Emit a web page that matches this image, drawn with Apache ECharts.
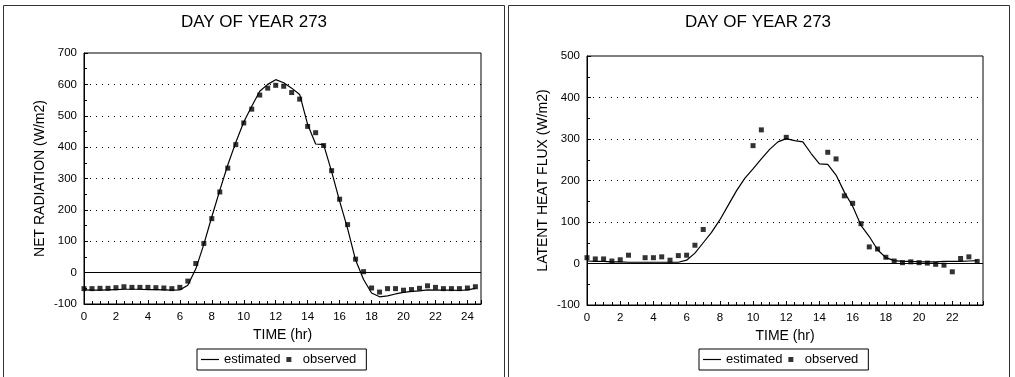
<!DOCTYPE html>
<html>
<head>
<meta charset="utf-8">
<script src="https://cdn.jsdelivr.net/npm/echarts@6/dist/echarts.min.js"></script>
<style>
  html, body { margin: 0; padding: 0; background: #fff; }
  #chart { width: 1015px; height: 377px; }
</style>
</head>
<body>
<div id="chart"></div>
<script>
// half-hour time steps
var netHours = [0, 0.5, 1, 1.5, 2, 2.5, 3, 3.5, 4, 4.5, 5, 5.5, 6, 6.5, 7, 7.5, 8, 8.5, 9, 9.5,
    10, 10.5, 11, 11.5, 12, 12.5, 13, 13.5, 14, 14.5, 15, 15.5, 16, 16.5, 17, 17.5, 18, 18.5, 19, 19.5,
    20, 20.5, 21, 21.5, 22, 22.5, 23, 23.5, 24, 24.5];
var netObserved = [-51, -51, -50, -50, -48, -45, -47, -47, -47, -48, -49, -51, -47, -27, 29, 93, 172, 257, 333, 408,
    477, 521, 566, 588, 597, 594, 574, 553, 466, 446, 405, 325, 234, 153, 43, 3, -49, -62, -51, -51,
    -56, -54, -50, -42, -47, -51, -51, -51, -49, -45];
var netEstimated = [-55, -56, -56, -55, -54, -53, -53, -53, -54, -54, -55, -56, -55, -40, 12, 90, 178, 262, 343, 415,
    480, 530, 578, 600, 615, 605, 588, 568, 472, 410, 408, 322, 228, 140, 40, -22, -65, -77, -74, -68,
    -63, -60, -58, -55, -56, -56, -56, -57, -55, -50];

var latentHours = [0, 0.5, 1, 1.5, 2, 2.5, 3, 3.5, 4, 4.5, 5, 5.5, 6, 6.5, 7, 7.5, 8, 8.5, 9, 9.5,
    10, 10.5, 11, 11.5, 12, 12.5, 13, 13.5, 14, 14.5, 15, 15.5, 16, 16.5, 17, 17.5, 18, 18.5, 19, 19.5,
    20, 20.5, 21, 21.5, 22, 22.5, 23, 23.5];
var latentObserved = [14, 11, 11, 6, 9, 20, null, 14, 14, 16, 8, 19, 20, 44, 82, null, null, null, null, null,
    284, 322, null, null, 304, null, null, null, null, 268, 252, 163, 145, 96, 40, 35, 15, 6, 2, 4,
    2, 1, -2, -4, -20, 12, 16, 5];
var latentEstimated = [6, 5, 5, 4, 4, 3, 3, 3, 3, 3, 3, 3, 8, 25, 50, 75, 105, 140, 175, 205,
    228, 252, 275, 293, 301, 296, 293, 265, 240, 239, 213, 172, 138, 92, 65, 33, 14, 7, 5, 5,
    4, 4, 4, 5, 5, 5, 6, 7];

var titleText = 'DAY OF YEAR 273';
var netTicks = { min: -100, max: 700, interval: 100 };
var latentTicks = { min: -100, max: 500, interval: 100 };

var FONT = 'Liberation Sans, Arial, Helvetica, sans-serif';

function pairs(xs, ys) {
    var out = [];
    for (var i = 0; i < xs.length; i++) {
        if (ys[i] !== null) out.push([xs[i], ys[i]]);
    }
    return out;
}

function xAxisOf(idx, max) {
    return {
        type: 'value', gridIndex: idx, min: 0, max: max, interval: 2,
        name: 'TIME (hr)', nameLocation: 'middle', nameGap: 22,
        nameTextStyle: { color: '#000', fontSize: 14, fontFamily: FONT },
        axisLine: { onZero: false, lineStyle: { color: '#000', width: 1 } },
        axisTick: { inside: true, length: 4, lineStyle: { color: '#000' } },
        minorTick: { show: true, splitNumber: 4, length: 3, lineStyle: { color: '#000' } },
        axisLabel: { color: '#000', fontSize: 11.5, fontFamily: FONT, margin: 7, showMaxLabel: false },
        splitLine: { show: false }
    };
}

function yAxisOf(idx, ticks, name) {
    return {
        type: 'value', gridIndex: idx, min: ticks.min, max: ticks.max, interval: ticks.interval,
        name: name, nameLocation: 'middle', nameGap: 37, nameRotate: 90,
        nameTextStyle: { color: '#000', fontSize: 14, fontFamily: FONT },
        axisLine: { show: true, lineStyle: { color: '#000', width: 1 } },
        axisTick: { inside: true, length: 4, lineStyle: { color: '#000' } },
        minorTick: { show: true, splitNumber: 2, length: 3, lineStyle: { color: '#000' } },
        axisLabel: { color: '#000', fontSize: 11.5, fontFamily: FONT, margin: 7 },
        splitLine: {
            show: true, showMinLine: false, showMaxLine: false,
            lineStyle: { color: '#000', width: 1, type: [1, 5] }
        }
    };
}

function legendOf(left) {
    return {
        left: left, top: 349, orient: 'horizontal',
        borderColor: '#000', borderWidth: 1, padding: [4, 10, 4, 4],
        itemWidth: 18, itemHeight: 5, itemGap: 6,
        textStyle: { color: '#000', fontSize: 13, fontFamily: FONT },
        data: [
            { name: 'estimated', icon: 'path://M0,4.4H18V5.6H0Z' },
            { name: 'observed', icon: 'path://M0,0H10V10H0Z' }
        ]
    };
}

var zeroLine = {
    silent: true, symbol: 'none', label: { show: false },
    lineStyle: { color: '#000', width: 1, type: 'solid' },
    data: [{ yAxis: 0 }]
};

var chart = echarts.init(document.getElementById('chart'), null, { renderer: 'canvas' });
var option = {
    backgroundColor: '#fff',
    animation: false,
    graphic: [
        { type: 'rect', shape: { x: 3.5, y: 5.5, width: 501, height: 400 }, style: { fill: 'none', stroke: '#333', lineWidth: 1 } },
        { type: 'rect', shape: { x: 508.5, y: 5.5, width: 501, height: 400 }, style: { fill: 'none', stroke: '#333', lineWidth: 1 } },
        { type: 'text', x: 254, y: 22, style: { text: titleText, fill: '#000', font: '17px ' + FONT, textAlign: 'center', textVerticalAlign: 'middle' } },
        { type: 'text', x: 758, y: 22, style: { text: titleText, fill: '#000', font: '17px ' + FONT, textAlign: 'center', textVerticalAlign: 'middle' } }
    ],
    legend: [legendOf(197), legendOf(699)],
    grid: [
        { left: 84, top: 53, width: 397, height: 251, show: true, borderColor: '#000', borderWidth: 1, backgroundColor: 'transparent' },
        { left: 587, top: 56, width: 396, height: 249, show: true, borderColor: '#000', borderWidth: 1, backgroundColor: 'transparent' }
    ],
    xAxis: [xAxisOf(0, 24.85), xAxisOf(1, 23.85)],
    yAxis: [yAxisOf(0, netTicks, 'NET RADIATION (W/m2)'), yAxisOf(1, latentTicks, 'LATENT HEAT FLUX (W/m2)')],
    series: [
        {
            name: 'estimated', type: 'line', xAxisIndex: 0, yAxisIndex: 0,
            data: pairs(netHours, netEstimated), symbol: 'none', showSymbol: false,
            lineStyle: { color: '#000', width: 1.2 }, itemStyle: { color: '#000' },
            markLine: zeroLine, z: 3
        },
        {
            name: 'observed', type: 'scatter', xAxisIndex: 0, yAxisIndex: 0,
            data: pairs(netHours, netObserved), symbol: 'rect', symbolSize: 5,
            itemStyle: { color: '#000' }, z: 4
        },
        {
            name: 'estimated', type: 'line', xAxisIndex: 1, yAxisIndex: 1,
            data: pairs(latentHours, latentEstimated), symbol: 'none', showSymbol: false,
            lineStyle: { color: '#000', width: 1.2 }, itemStyle: { color: '#000' },
            markLine: zeroLine, z: 3
        },
        {
            name: 'observed', type: 'scatter', xAxisIndex: 1, yAxisIndex: 1,
            data: pairs(latentHours, latentObserved), symbol: 'rect', symbolSize: 5,
            itemStyle: { color: '#000' }, z: 4
        }
    ]
};
option && chart.setOption(option);
</script>
</body>
</html>
